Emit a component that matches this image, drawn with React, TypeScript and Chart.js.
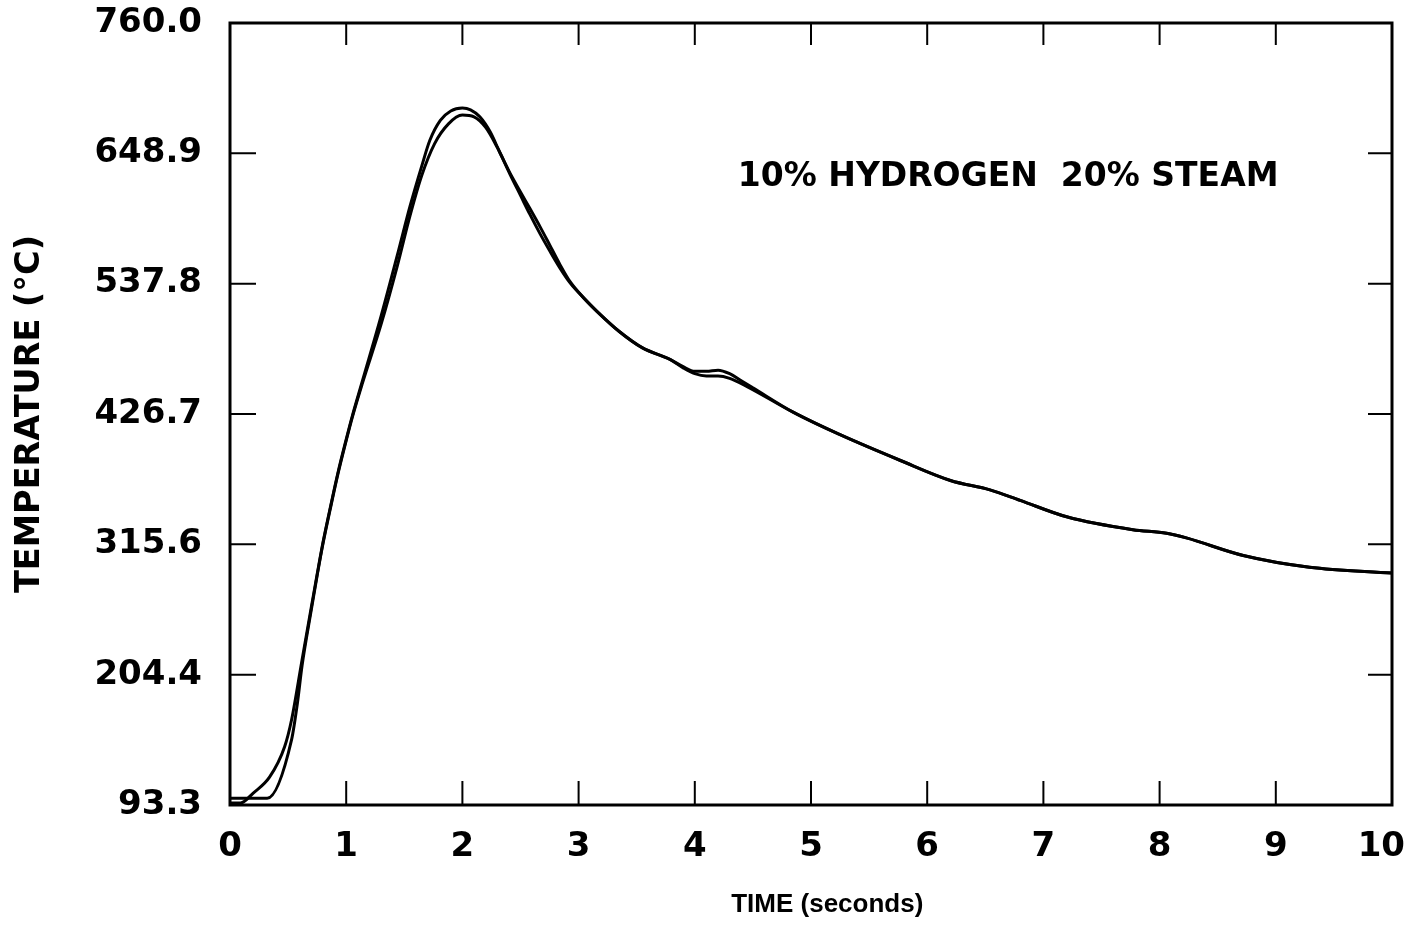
import React, { useEffect, useRef } from "react";
import { Chart, registerables } from "chart.js";

Chart.register(...registerables);

// Time (seconds) and temperature (°C) for the two traces
const timeA = [0, 0.09, 0.2, 0.34, 0.47, 0.53, 0.62, 0.7, 0.75, 0.8, 0.87, 0.93, 1.0, 1.05, 1.14, 1.3, 1.44, 1.55, 1.65, 1.72, 1.81, 1.9, 2.0, 2.07, 2.15, 2.24, 2.32, 2.41, 2.5, 2.58, 2.67, 2.75, 2.84, 2.93, 3.05, 3.16, 3.35, 3.55, 3.79, 3.9, 4.0, 4.1, 4.2, 4.3, 4.45, 4.85, 5.25, 5.77, 6.2, 6.54, 6.8, 7.2, 7.77, 8.06, 8.23, 8.72, 9.29, 10];
const tempA = [95, 95, 103.5, 117, 143, 166, 217, 262, 290, 317, 350, 377, 405, 424, 455, 510, 562, 604, 638, 660, 677, 685, 687.5, 686, 680, 667, 650, 631, 613, 597, 580, 566, 551, 538, 525, 514, 497, 483, 473, 466, 461, 459, 459, 457, 450, 428, 409, 387, 370, 362, 353, 339, 328, 325, 321, 306, 296, 291];

const timeB = [0, 0.32, 0.53, 0.58, 0.62, 0.7, 0.75, 0.8, 0.87, 0.93, 1.0, 1.05, 1.14, 1.3, 1.44, 1.55, 1.65, 1.76, 1.88, 2.0, 2.1, 2.2, 2.3, 2.41, 2.5, 2.58, 2.67, 2.75, 2.84, 2.93, 3.05, 3.16, 3.35, 3.55, 3.79, 3.9, 4.0, 4.1, 4.2, 4.3, 4.4, 4.5, 4.85, 5.25, 5.77, 6.2, 6.54, 6.8, 7.2, 7.77, 8.06, 8.23, 8.72, 9.29, 10];
const tempB = [99, 99, 149, 180, 212, 260, 289, 316, 349, 376, 404, 423, 453, 503, 553, 596, 630, 657, 674, 681.5, 680, 671, 654, 632, 616, 602, 586, 571, 554, 539, 525, 514, 497, 483, 473, 467, 463, 463, 464, 461, 455, 449, 428, 409, 387, 370, 362, 353, 339, 328, 325, 321, 306, 296, 291];

const xTickValues = [0, 1, 2, 3, 4, 5, 6, 7, 8, 9, 10];
const yTickValues = [93.3, 204.4, 315.6, 426.7, 537.8, 648.9, 760.0];

const annotationText = "10% HYDROGEN  20% STEAM";
const xTitle = "TIME (seconds)";
const yTitle = "TEMPERATURE (°C)";

const FONT = "'DejaVu Sans', sans-serif";

export default function App() {
  const ref = useRef<HTMLCanvasElement | null>(null);

  useEffect(() => {
    if (!ref.current) return;

    const framePlugin = {
      id: "frameTicks",
      afterDatasetsDraw(chart: any) {
        const { ctx, chartArea, width } = chart;
        const xs = chart.scales.x;
        const ys = chart.scales.y;
        ctx.save();
        ctx.strokeStyle = "#000";
        ctx.lineWidth = 2;
        const tl = 24;
        xTickValues.forEach((v) => {
          if (v === xTickValues[0] || v === xTickValues[xTickValues.length - 1]) return;
          const px = xs.getPixelForValue(v);
          ctx.beginPath();
          ctx.moveTo(px, chartArea.bottom);
          ctx.lineTo(px, chartArea.bottom - tl);
          ctx.moveTo(px, chartArea.top);
          ctx.lineTo(px, chartArea.top + tl - 2);
          ctx.stroke();
        });
        yTickValues.forEach((v, i) => {
          if (i === 0 || i === yTickValues.length - 1) return;
          const py = ys.getPixelForValue(v);
          ctx.beginPath();
          ctx.moveTo(chartArea.left, py);
          ctx.lineTo(chartArea.left + tl + 2, py);
          ctx.moveTo(chartArea.right, py);
          ctx.lineTo(chartArea.right - tl, py);
          ctx.stroke();
        });
        ctx.lineWidth = 3;
        ctx.strokeRect(chartArea.left, chartArea.top, chartArea.right - chartArea.left, chartArea.bottom - chartArea.top);

        ctx.fillStyle = "#000";
        // x tick labels (kept inside the canvas)
        ctx.font = `bold 34px ${FONT}`;
        ctx.textAlign = "center";
        ctx.textBaseline = "middle";
        xTickValues.forEach((v) => {
          const label = String(v);
          const w = ctx.measureText(label).width;
          let px = xs.getPixelForValue(v);
          if (px + w / 2 > width - 6) px = width - 6 - w / 2;
          ctx.fillText(label, px, chartArea.bottom + 42);
        });
        // annotation
        ctx.font = `bold 33px ${FONT}`;
        ctx.textAlign = "left";
        ctx.fillText(annotationText, xs.getPixelForValue(4.37), ys.getPixelForValue(628));
        // x-axis title
        ctx.font = `bold 26px 'Liberation Sans', Arial, sans-serif`;
        ctx.textAlign = "center";
        ctx.fillText(xTitle, xs.getPixelForValue(5.14), 905);
        ctx.restore();
      },
    };

    const chart = new Chart(ref.current, {
      type: "line",
      data: {
        datasets: [
          {
            data: timeA.map((t, i) => ({ x: t, y: tempA[i] })),
            borderColor: "#000",
            borderWidth: 3,
            pointRadius: 0,
            cubicInterpolationMode: "monotone",
            fill: false,
          },
          {
            data: timeB.map((t, i) => ({ x: t, y: tempB[i] })),
            borderColor: "#000",
            borderWidth: 3,
            pointRadius: 0,
            cubicInterpolationMode: "monotone",
            fill: false,
          },
        ],
      },
      plugins: [framePlugin],
      options: {
        responsive: false,
        animation: false,
        layout: { padding: { left: 0, top: 23, right: 19, bottom: 0 } },
        plugins: { legend: { display: false }, tooltip: { enabled: false } },
        scales: {
          x: {
            type: "linear",
            min: 0,
            max: 10,
            afterBuildTicks: (scale: any) => {
              scale.ticks = xTickValues.map((v) => ({ value: v }));
            },
            afterFit: (scale: any) => {
              scale.height = 147;
              scale.paddingLeft = 0;
              scale.paddingRight = 0;
            },
            grid: { display: false, drawTicks: false },
            border: { display: false },
            ticks: { display: false },
            title: { display: false },
          },
          y: {
            type: "linear",
            min: 93.3,
            max: 760,
            afterBuildTicks: (scale: any) => {
              scale.ticks = yTickValues.map((v) => ({ value: v }));
            },
            afterFit: (scale: any) => {
              scale.width = 230;
              scale.paddingTop = 0;
              scale.paddingBottom = 0;
            },
            grid: { display: false, drawTicks: false },
            border: { display: false },
            ticks: {
              color: "#000",
              padding: 28,
              font: { family: FONT, size: 34, weight: "bold" },
              autoSkip: false,
              callback: (v: any) => Number(v).toFixed(1),
            },
            title: {
              display: true,
              text: yTitle,
              color: "#000",
              font: { family: FONT, size: 33.5, weight: "bold" },
              padding: { top: 10, bottom: 0 },
            },
          },
        },
      },
    } as any);

    return () => chart.destroy();
  }, []);

  return (
    <div style={{ position: "absolute", left: 0, top: 0, width: 1411, height: 952, background: "#fff" }}>
      <canvas ref={ref} width={1411} height={952} style={{ width: 1411, height: 952, display: "block" }} />
    </div>
  );
}
